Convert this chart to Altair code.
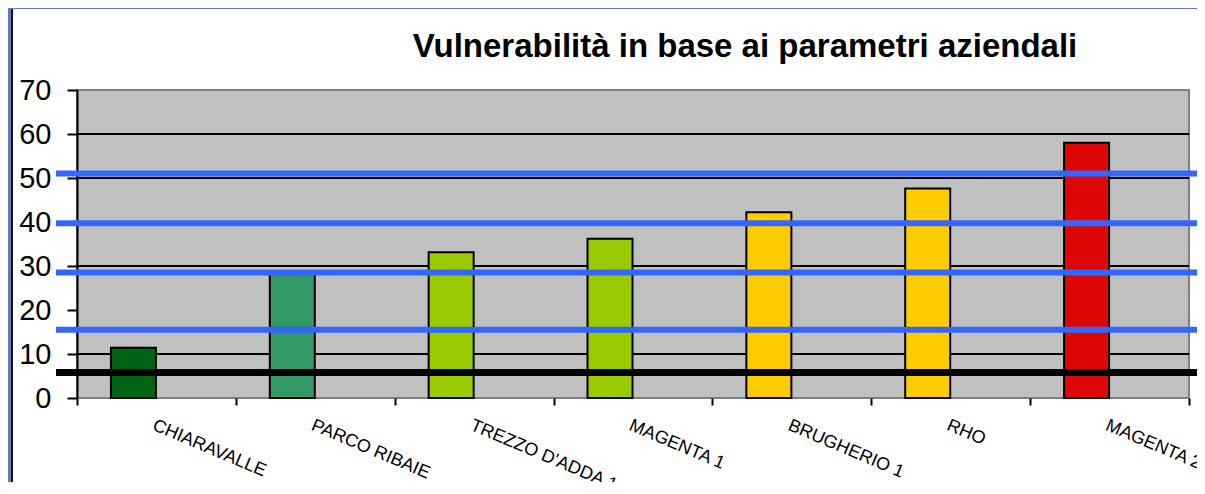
import altair as alt
import pandas as pd

categories = ["CHIARAVALLE", "PARCO RIBAIE", "TREZZO D'ADDA 1", "MAGENTA 1",
              "BRUGHERIO 1", "RHO", "MAGENTA 2"]
values = [11.4, 28.2, 33.1, 36.2, 42.2, 47.6, 58.0]
bar_colors = ["#006414", "#339966", "#99cc00", "#99cc00", "#ffcc00", "#ffcc00", "#dd0806"]
threshold_blue = [51.0, 39.7, 28.5, 15.5]
threshold_black = [5.8]
grid_values = [10, 30, 40, 50, 60]
y_ticks = [0, 10, 20, 30, 40, 50, 60, 70]
title_text = "Vulnerabilità in base ai parametri aziendali"

W, H = 1112, 308
PAD_L, PAD_T, PAD_R, PAD_B = 69, 82, 8, 84

bars_df = pd.DataFrame({"cat": categories, "val": values, "color": bar_colors})
blue_df = pd.DataFrame({"v": threshold_blue})
black_df = pd.DataFrame({"v": threshold_black})
grid_df = pd.DataFrame({"v": grid_values})
one = pd.DataFrame({"a": [0]})

yscale = alt.Scale(domain=[0, 70], nice=False, zero=True)
yaxis = alt.Axis(title=None, values=y_ticks, grid=False,
                 domainColor="black", domainWidth=2,
                 tickColor="black", tickWidth=2, tickSize=10,
                 labelPadding=16, labelFont="Liberation Sans",
                 labelFontSize=29, labelColor="black")

grid = alt.Chart(grid_df).mark_rule(color="black", strokeWidth=2).encode(
    y=alt.Y("v:Q", scale=yscale, axis=yaxis),
)

bars = alt.Chart(bars_df).mark_bar(
    width=45, xOffset=-23, stroke="black", strokeWidth=2
).encode(
    x=alt.X("cat:N", sort=categories,
            scale=alt.Scale(paddingInner=0, paddingOuter=0),
            axis=alt.Axis(title=None, labelAngle=23, labelAlign="left",
                          labelBaseline="top", labelPadding=11,
                          labelFont="Liberation Sans", labelFontSize=18,
                          labelColor="black", tickBand="extent",
                          tickSize=7, tickWidth=2, tickColor="black",
                          domain=False, grid=False)),
    y=alt.Y("val:Q", scale=yscale, axis=yaxis),
    color=alt.Color("color:N", scale=None),
)

blue_lines = alt.Chart(blue_df).mark_rule(color="#3366ff", strokeWidth=6).encode(
    y=alt.Y("v:Q", scale=yscale, axis=yaxis),
    x=alt.value(-21), x2=alt.value(W + PAD_R),
)

black_line = alt.Chart(black_df).mark_rule(color="black", strokeWidth=7).encode(
    y=alt.Y("v:Q", scale=yscale, axis=yaxis),
    x=alt.value(-21), x2=alt.value(W + PAD_R),
)

title = alt.Chart(one).mark_text(
    font="Liberation Sans", fontSize=33, fontWeight="bold", color="black",
    align="center", baseline="alphabetic",
).encode(
    x=alt.value(668), y=alt.value(-33), text=alt.value(title_text),
)

frame_blue = alt.Chart(one).mark_rect(color="#6577c2").encode(
    x=alt.value(-PAD_L), x2=alt.value(-PAD_L + 3),
    y=alt.value(-PAD_T), y2=alt.value(H + PAD_B),
)
frame_top = alt.Chart(one).mark_rect(color="#6577c2").encode(
    x=alt.value(-PAD_L), x2=alt.value(W + PAD_R),
    y=alt.value(-PAD_T), y2=alt.value(-PAD_T + 1),
)
frame_dark = alt.Chart(one).mark_rect(color="#101020").encode(
    x=alt.value(-PAD_L + 3), x2=alt.value(-PAD_L + 5),
    y=alt.value(-PAD_T + 1), y2=alt.value(H + PAD_B),
)

chart = alt.layer(
    grid, bars, blue_lines, black_line, title, frame_blue, frame_top, frame_dark
).properties(
    width=W, height=H,
    background="white",
    autosize=alt.AutoSizeParams(type="none"),
    padding={"left": PAD_L, "top": PAD_T, "right": PAD_R, "bottom": PAD_B},
).configure_view(
    fill="#c0c0c0", stroke="#808080", strokeWidth=2,
)

chart.save("out.html", embed_options={"renderer": "svg", "actions": False})
